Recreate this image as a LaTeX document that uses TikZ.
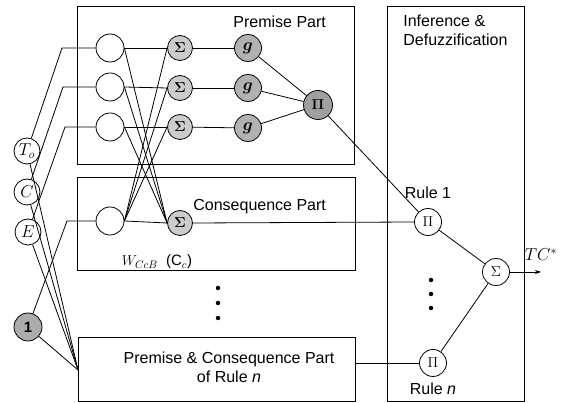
\documentclass[tikz,border=0pt]{standalone}
\usepackage{amsmath}
\usepackage{bm}
\usepackage{fontspec}
\setmainfont{Liberation Sans}
\usetikzlibrary{arrows.meta}
\begin{document}
\begin{tikzpicture}[x=1pt,y=-1pt, line width=0.8pt,
  boxnode/.style={draw, line width=1pt, inner sep=0pt, outer sep=0pt},
  inp/.style={circle, draw, fill=white, minimum size=26pt, inner sep=0pt, font=\fontsize{17}{17}\selectfont},
  onenode/.style={circle, draw, fill=gray!65, minimum size=28pt, inner sep=0pt, font=\fontsize{15}{15}\selectfont},
  mf/.style={circle, draw, fill=white, minimum size=28pt, inner sep=0pt},
  sig/.style={circle, draw, fill=gray!40, minimum size=25pt, inner sep=0pt, font=\fontsize{15}{15}\selectfont},
  gnode/.style={circle, draw, fill=gray!60, minimum size=27pt, inner sep=0pt, font=\fontsize{16}{16}\selectfont},
  pdark/.style={circle, draw, fill=gray!75, minimum size=29pt, inner sep=0pt, font=\fontsize{15}{15}\selectfont},
  pwhite/.style={circle, draw, fill=white, minimum size=27pt, inner sep=0pt, font=\fontsize{15}{15}\selectfont},
  lbl/.style={font=\fontsize{16}{19}\selectfont, inner sep=0pt},
  dot/.style={circle, fill=black, minimum size=4.5pt, inner sep=0pt}
]
\useasboundingbox (0,0) rectangle (571,403);

% boxes
\node[boxnode, minimum width=277pt, minimum height=158pt] (prem) at (215.5,86) {};
\node[boxnode, minimum width=278pt, minimum height=93pt] (cons) at (216,224.5) {};
\node[boxnode, minimum width=277pt, minimum height=64pt] (pcb) at (216.5,370) {};
\node[boxnode, minimum width=137pt, minimum height=395pt] (inf) at (455.5,204.5) {};

% labels
\node[lbl, anchor=west] (tprem) at (233,22) {Premise Part};
\node[lbl, anchor=west] (tcons) at (193,207) {Consequence Part};
\node[lbl, anchor=west, align=left] (tinf) at (403,30) {Inference \&\\Defuzzification};
\node[lbl, align=center] (tpcb) at (229,367) {Premise \& Consequence Part\\of Rule \textit{n}};
\node[lbl] (tr1) at (428,193) {Rule 1};
\node[lbl] (trn) at (433,389) {Rule \textit{n}};
\node[font=\fontsize{15}{15}\selectfont, inner sep=0pt] (tw) at (157,262) {$W_{CcB}$\ \ (C$_{c}$)};

% inputs
\node[inp] (To) at (27,151) {$T_o$};
\node[inp] (C) at (27,192) {$C$};
\node[inp] (E) at (28,232) {$E$};
\node[onenode] (one) at (28,327) {$\mathbf{1}$};

% membership
\node[mf] (m1) at (110,48) {};
\node[mf] (m2) at (110,87) {};
\node[mf] (m3) at (110,127) {};
\node[mf] (mc) at (110,221) {};

% sums
\node[sig] (s1) at (180,48) {$\bm{\Sigma}$};
\node[sig] (s2) at (180,88) {$\bm{\Sigma}$};
\node[sig] (s3) at (180,127) {$\bm{\Sigma}$};
\node[sig] (sc) at (180,223) {$\bm{\Sigma}$};

% g
\node[gnode] (g1) at (248,48) {$\bm{g}$};
\node[gnode] (g2) at (248,88) {$\bm{g}$};
\node[gnode] (g3) at (248,128) {$\bm{g}$};

\node[pdark] (P) at (318,105) {$\bm{\Pi}$};
\node[pwhite] (R1) at (428,222) {$\Pi$};
\node[pwhite] (Rn) at (433,363) {$\Pi$};
\node[pwhite] (out) at (496,272) {$\Sigma$};
\node[font=\fontsize{17}{17}\selectfont, inner sep=0pt] (tc) at (541,255) {$TC^{*}$};
\coordinate (tcend) at (541,272);

% bend coordinates
\coordinate (k1) at (62,48);
\coordinate (k2) at (63,87);
\coordinate (k3) at (65,127);
\coordinate (kc) at (67,221);

% input wiring
\draw (To) -- (k1) -- (m1);
\draw (C) -- (k2) -- (m2);
\draw (E) -- (k3) -- (m3);
\draw (one) -- (kc) -- (mc);
\draw (To) -- (pcb.west);
\draw (C) -- (pcb.west);
\draw (E) -- (pcb.west);
\draw (one) -- (pcb.west);

% membership to sums
\foreach \m/\s in {m1/s1, m2/s2, m3/s3, mc/sc}
  \draw (\m.east) -- (\s.west);
\foreach \m in {m1, m2, m3}
  \draw (\m.east) -- (sc.west);
\foreach \s in {s1, s2, s3}
  \draw (mc.east) -- (\s.west);

% sums to g
\draw (s1) -- (g1);
\draw (s2) -- (g2);
\draw (s3) -- (g3);
\draw (g1) -- (P);
\draw (g2) -- (P);
\draw (g3) -- (P);

% to inference
\draw (P) -- (R1);
\draw (sc.east) -- (R1.west);
\draw (pcb.east |- Rn.west) -- (Rn.west);
\draw (R1) -- (out);
\draw (Rn) -- (out);
\draw[-{Stealth[length=6pt,width=4pt]}] (out) -- (tcend);

% dots
\node[dot] (d1) at (218,288) {};
\node[dot] (d2) at (218,303) {};
\node[dot] (d3) at (218,318) {};
\node[dot] (e1) at (431,280) {};
\node[dot] (e2) at (431,294) {};
\node[dot] (e3) at (431,308) {};
\end{tikzpicture}
\end{document}
